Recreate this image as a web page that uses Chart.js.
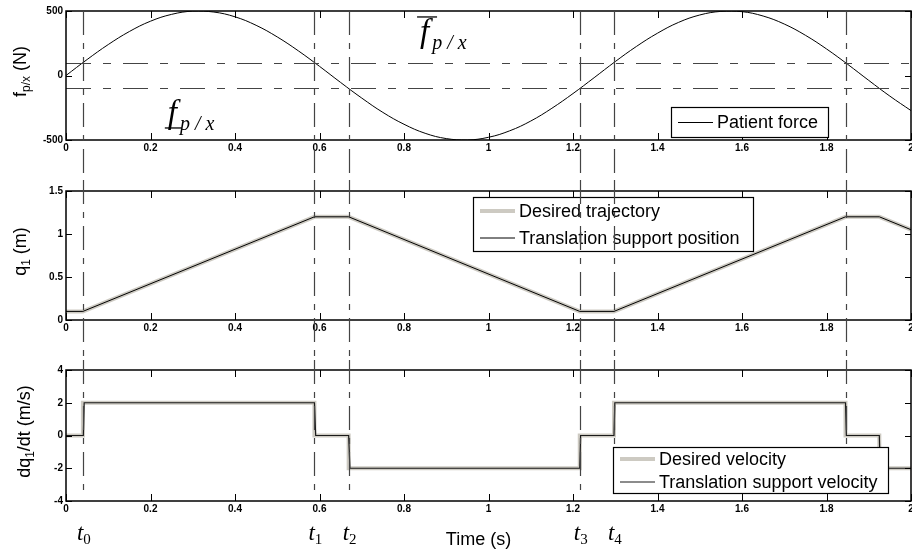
<!DOCTYPE html>
<html>
<head>
<meta charset="utf-8">
<script src="https://cdn.jsdelivr.net/npm/chart.js@4.4.1/dist/chart.umd.min.js"></script>
<style>
  body { margin: 0; background: #fff; }
  #wrap { position: relative; width: 912px; height: 555px; overflow: hidden; background: #fff; }
  canvas { position: absolute; left: 0; }
</style>
</head>
<body>
<div id="wrap">
  <canvas id="forceChart" style="top:0px"></canvas>
  <canvas id="posChart" style="top:180px"></canvas>
  <canvas id="velChart" style="top:360px"></canvas>
</div>
<script>
const timeTicks = [0, 0.2, 0.4, 0.6, 0.8, 1, 1.2, 1.4, 1.6, 1.8, 2];
const forceTicks = [-500, 0, 500];
const posTicks = [0, 0.5, 1, 1.5];
const velTicks = [-4, -2, 0, 2, 4];

// switching instants t0..t4 (last one has no label)
const eventTimes = [0.04, 0.588, 0.669, 1.216, 1.297, 1.845];
const eventNames = ['0', '1', '2', '3', '4', null];
const forceBounds = [100, -100];

const forceTimes = [0, 0.05, 0.1, 0.15, 0.2, 0.25, 0.3, 0.35, 0.4, 0.45, 0.5, 0.55, 0.6, 0.65, 0.7,
  0.75, 0.8, 0.85, 0.9, 0.95, 1, 1.05, 1.1, 1.15, 1.2, 1.25, 1.3, 1.35, 1.4, 1.45, 1.5, 1.55, 1.6,
  1.65, 1.7, 1.75, 1.8, 1.85, 1.9, 1.95, 2];
const patientForce = [0, 124, 240, 341, 421, 474, 499, 492, 455, 389, 299, 191, 71, -54, -175,
  -286, -378, -448, -489, -500, -479, -429, -353, -254, -140, -17, 108, 225, 328, 412, 469, 497, 495,
  461, 399, 312, 206, 87, -38, -160, -272];

const posTimes = [0, 0.04, 0.588, 0.669, 1.216, 1.297, 1.845, 1.925, 2];
const posDesired = [0.1, 0.1, 1.2, 1.2, 0.1, 0.1, 1.2, 1.2, 1.05];
const posActual = [0.1, 0.1, 1.2, 1.2, 0.1, 0.1, 1.2, 1.2, 1.05];

const velTimes = [0, 0.04, 0.04, 0.588, 0.588, 0.669, 0.669, 1.216, 1.216, 1.297, 1.297, 1.845, 1.845, 1.925, 1.925, 2];
const velDesired = [0, 0, 2, 2, 0, 0, -2, -2, 0, 0, 2, 2, 0, 0, -2, -2];
const velActualTimes = [0, 0.041, 0.043, 0.588, 0.591, 0.669, 0.672, 1.216, 1.218, 1.297, 1.299, 1.845, 1.847, 1.925, 1.927, 2];
const velActual = [0, 0, 2, 2, 0, 0, -2, -2, 0, 0, 2, 2, 0, 0, -2, -2];

const SANS = '"Liberation Sans", Arial, sans-serif';
const SERIF = '"Liberation Serif", "Times New Roman", serif';
const DESIRED = '#cdcac2';

function pts(xs, ys) {
  return xs.map((x, i) => ({ x: x, y: ys[i] }));
}

function fmt(v) {
  return String(+v.toFixed(2));
}

function drawRich(ctx, parts, cx, cy) {
  ctx.save();
  ctx.translate(cx, cy);
  ctx.rotate(-Math.PI / 2);
  let total = 0;
  parts.forEach(p => { ctx.font = p.font; p.w = ctx.measureText(p.text).width; total += p.w; });
  let xx = -total / 2;
  ctx.textBaseline = 'alphabetic';
  ctx.fillStyle = '#000';
  parts.forEach(p => { ctx.font = p.font; ctx.fillText(p.text, xx, p.dy || 0); xx += p.w; });
  ctx.restore();
}

function boundLabel(ctx, px, py, mark) {
  ctx.fillStyle = '#000';
  ctx.textBaseline = 'alphabetic';
  ctx.textAlign = 'left';
  ctx.font = 'italic 33px ' + SERIF;
  ctx.fillText('f', px, py);
  const fw = ctx.measureText('f').width;
  ctx.font = 'italic 20px ' + SERIF;
  ctx.fillText('p / x', px + fw + 3, py + 7);
  ctx.strokeStyle = '#000';
  ctx.lineWidth = 1.3;
  ctx.beginPath();
  if (mark === 'over') {
    ctx.moveTo(px - 3, py - 25); ctx.lineTo(px + 17, py - 25);
  } else {
    ctx.moveTo(px - 3, py + 5); ctx.lineTo(px + 14, py + 5);
  }
  ctx.stroke();
}

const matlabAxes = {
  id: 'matlabAxes',
  afterDatasetsDraw(chart, args, o) {
    const ctx = chart.ctx;
    const a = chart.chartArea;
    const x = chart.scales.x, y = chart.scales.y;
    ctx.save();

    if (o.hLines) {
      ctx.setLineDash([25, 12, 8, 12]);
      ctx.strokeStyle = '#444';
      ctx.lineWidth = 1.2;
      o.hLines.forEach(v => {
        const py = Math.round(y.getPixelForValue(v)) + 0.5;
        ctx.beginPath(); ctx.moveTo(a.left, py); ctx.lineTo(a.right, py); ctx.stroke();
      });
      ctx.setLineDash([]);
    }

    // axes box
    ctx.strokeStyle = '#000';
    ctx.lineWidth = 1.5;
    ctx.strokeRect(a.left, a.top, a.right - a.left, a.bottom - a.top);

    // inward ticks on all four sides
    ctx.lineWidth = 1;
    ctx.beginPath();
    timeTicks.forEach(v => {
      const px = Math.round(x.getPixelForValue(v)) + 0.5;
      ctx.moveTo(px, a.bottom); ctx.lineTo(px, a.bottom - 7);
      ctx.moveTo(px, a.top); ctx.lineTo(px, a.top + 7);
    });
    o.yTicks.forEach(v => {
      const py = Math.round(y.getPixelForValue(v)) + 0.5;
      ctx.moveTo(a.left, py); ctx.lineTo(a.left + 6, py);
      ctx.moveTo(a.right, py); ctx.lineTo(a.right - 6, py);
    });
    ctx.stroke();

    const drawEvents = () => {
      ctx.save();
      ctx.setLineDash([24, 8, 6, 8]);
      ctx.strokeStyle = '#444';
      ctx.lineWidth = 1.2;
      eventTimes.forEach(t => {
        const px = Math.round(x.getPixelForValue(t)) + 0.5;
        const top = o.lineTop === 'area' ? a.top : o.lineTop;
        ctx.beginPath(); ctx.moveTo(px, top); ctx.lineTo(px, o.lineBottom); ctx.stroke();
      });
      ctx.restore();
    };

    const drawLegend = () => {
      const L = o.legend;
      const sets = chart.data.datasets;
      ctx.save();
      ctx.fillStyle = '#fff';
      ctx.fillRect(L.left, L.top, L.width, L.height);
      ctx.strokeStyle = '#000';
      ctx.lineWidth = 1.2;
      ctx.strokeRect(L.left + 0.5, L.top + 0.5, L.width, L.height);
      ctx.font = '18px ' + SANS;
      ctx.textBaseline = 'middle';
      ctx.textAlign = 'left';
      sets.forEach((ds, i) => {
        const cy = L.top + L.height * (i + 0.5) / sets.length + 0.5;
        ctx.strokeStyle = ds.borderColor;
        ctx.lineWidth = ds.borderWidth;
        ctx.beginPath();
        ctx.moveTo(L.left + 7, cy); ctx.lineTo(L.left + 42, cy);
        ctx.stroke();
        ctx.fillStyle = '#000';
        ctx.fillText(ds.label, L.left + 46, cy + 1);
      });
      ctx.restore();
    };

    if (o.linesOverLegend) { drawLegend(); drawEvents(); }
    else { drawEvents(); drawLegend(); }

    // y axis title
    drawRich(ctx, o.title, o.titleX, (a.top + a.bottom) / 2 - 4);

    if (o.bounds) {
      boundLabel(ctx, x.getPixelForValue(0.838), y.getPixelForValue(260), 'over');
      boundLabel(ctx, x.getPixelForValue(0.241), y.getPixelForValue(-368), 'under');
    }

    if (o.timeLabels) {
      ctx.fillStyle = '#000';
      ctx.textBaseline = 'alphabetic';
      eventTimes.forEach((t, i) => {
        if (!eventNames[i]) return;
        const px = x.getPixelForValue(t) - 6;
        ctx.textAlign = 'left';
        ctx.font = 'italic 23px ' + SERIF;
        ctx.fillText('t', px, 180);
        const tw = ctx.measureText('t').width;
        ctx.font = '15px ' + SERIF;
        ctx.fillText(eventNames[i], px + tw, 184);
      });
      ctx.font = '18px ' + SANS;
      ctx.textAlign = 'center';
      ctx.fillText('Time (s)', (a.left + a.right) / 2 - 10, 185);
    }
    ctx.restore();
  }
};

function makeChart(id, height, padTop, xHeight, datasets, yMin, yMax, yTicks, extra) {
  const canvas = document.getElementById(id);
  canvas.width = 912;
  canvas.height = height;
  canvas.style.width = '912px';
  canvas.style.height = height + 'px';
  return new Chart(canvas, {
    type: 'line',
    data: { datasets: datasets },
    plugins: [matlabAxes],
    options: {
      responsive: false,
      animation: false,
      devicePixelRatio: 1,
      layout: { padding: { top: padTop, right: 1, left: 0, bottom: 0 } },
      elements: { point: { radius: 0 } },
      plugins: {
        legend: { display: false },
        tooltip: { enabled: false },
        matlabAxes: Object.assign({ yTicks: yTicks }, extra)
      },
      scales: {
        x: {
          type: 'linear',
          min: 0,
          max: 2,
          grid: { display: false, drawTicks: false },
          border: { display: false },
          afterBuildTicks: s => { s.ticks = timeTicks.map(v => ({ value: v })); },
          afterFit: s => { s.height = xHeight; s.paddingLeft = 0; s.paddingRight = 0; },
          ticks: {
            autoSkip: false,
            maxRotation: 0,
            padding: 2,
            color: '#000',
            font: { family: SANS, size: 10, weight: 'bold' },
            callback: v => fmt(v)
          }
        },
        y: {
          type: 'linear',
          min: yMin,
          max: yMax,
          grid: { display: false, drawTicks: false },
          border: { display: false },
          afterBuildTicks: s => { s.ticks = yTicks.map(v => ({ value: v })); },
          afterFit: s => { s.width = 66; s.paddingTop = 0; s.paddingBottom = 0; },
          ticks: {
            autoSkip: false,
            padding: 3,
            color: '#000',
            font: { family: SANS, size: 10, weight: 'bold' },
            callback: v => fmt(v)
          }
        }
      }
    }
  });
}

const big = '18px ' + SANS;
const sub = '12px ' + SANS;

makeChart('forceChart', 180, 11, 40, [{
  label: 'Patient force',
  data: pts(forceTimes, patientForce),
  borderColor: '#000',
  borderWidth: 1,
  tension: 0.4
}], -500, 500, forceTicks, {
  hLines: forceBounds,
  bounds: true,
  lineTop: 'area',
  lineBottom: 180,
  linesOverLegend: false,
  titleX: 26,
  title: [{ text: 'f', font: big }, { text: 'p/x', font: sub, dy: 4 }, { text: ' (N)', font: big }],
  legend: { left: 671, top: 107, width: 157, height: 30 }
});

// lower "order" is drawn on top, so the measured (black) line sits over the desired one
makeChart('posChart', 180, 11, 40, [{
  label: 'Desired trajectory',
  data: pts(posTimes, posDesired),
  borderColor: DESIRED,
  borderWidth: 4,
  order: 2
}, {
  label: 'Translation support position',
  data: pts(posTimes, posActual),
  borderColor: '#000',
  borderWidth: 1,
  order: 1
}], 0, 1.5, posTicks, {
  lineTop: 0,
  lineBottom: 180,
  linesOverLegend: true,
  titleX: 26,
  title: [{ text: 'q', font: big }, { text: '1', font: sub, dy: 4 }, { text: ' (m)', font: big }],
  legend: { left: 473, top: 17, width: 280, height: 54 }
});

makeChart('velChart', 195, 10, 54, [{
  label: 'Desired velocity',
  data: pts(velTimes, velDesired),
  borderColor: DESIRED,
  borderWidth: 4,
  order: 2
}, {
  label: 'Translation support velocity',
  data: pts(velActualTimes, velActual),
  borderColor: '#1a1a1a',
  borderWidth: 1.2,
  order: 1
}], -4, 4, velTicks, {
  lineTop: 0,
  lineBottom: 130,
  linesOverLegend: false,
  timeLabels: true,
  titleX: 30,
  title: [{ text: 'dq', font: big }, { text: '1', font: sub, dy: 4 }, { text: '/dt (m/s)', font: big }],
  legend: { left: 613, top: 87, width: 275, height: 46 }
});
</script>
</body>
</html>
